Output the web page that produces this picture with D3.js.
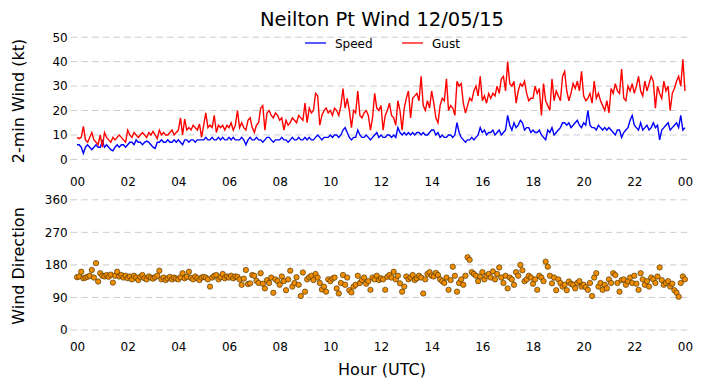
<!DOCTYPE html>
<html>
<head>
<meta charset="utf-8">
<script src="https://cdn.jsdelivr.net/npm/d3@7"></script>
<style>
  body { margin: 0; background: #fff; }
  text { font-family: "DejaVu Sans", sans-serif; fill: #000; }
  .grid line { stroke: #cccccc; stroke-width: 1; stroke-dasharray: 6.5,4.2; }
</style>
</head>
<body>
<div id="chart"></div>
<script>
// 5-minute observations, 00:00 UTC 12/05/15 -> 00:00 UTC next day
var startTime = new Date(Date.UTC(2015, 11, 5, 0, 0));
var stepMinutes = 5;

var speed = [
  6,6,5,2.5,5,6,5,4,5,6,5,5,
  7.5,5,6,5,4,3.5,5,6,5,6,6,5,
  6,7,7,6,8,7,7,6,7,7.5,7,6,
  5,4.5,7,7,8,7,7,8,7,7,8,7,
  8,7,6,8,8,7,8,8,7,8,8,8,
  8,9,8,8,9,8,8,9,8,9,8,8,
  9,8,9,8,8,8,9,8,6,8,9,8,
  8,9,8,8,7,8,9,9,8,7,8,8,
  8,9,8,8,7,8,9,8,8,9,8,8,
  9,8,9,8,8,9,10,9,8,9,9,9,
  10,9,10,10,9,10,12,13,11,9,8,9,
  9,12,10,9,9,10,9,8,9,10,11,9,
  10,9,9,10,10,9,10,9,13,11,10,11,
  10,11,10,11,10,11,11,10,11,10,10,11,
  12,12,10,11,9,10,9,9,10,10,9,10,
  15,11,9,8,7,8,8,9,8,9,10,13,
  11,12,10,11,11,12,10,11,12,10,11,12,
  18,14,12,15,13,14,16,15,12,13,13,11,
  12,11,11,12,10,9,8,12,11,13,10,11,
  12,13,15,15,14,15,13,14,15,16,14,13,
  15,14,20,14,13,13,12,14,13,12,13,12,
  13,12,11,10,12,12,9,11,12,13,16,18,
  14,13,12,15,12,13,14,12,13,15,13,14,
  8,12,13,14,15,12,13,14,15,13,18,12,
  13
];

var gust = [
  9,8.5,9,13.5,8,7,9,11,8,7,6,10,
  5,11,9,8,7,9,8,9,10,9,8,7,
  12,10,9,11,10,9,10,11,10,9,11,10,
  11.5,10,8.5,12,10,11,10,10,11,12,10,11,
  12,17,10,16.5,12,13,12,14,13,12,14.5,9,
  14,19,13,14,13,18,11,14,13,14,12,14,
  13,15,12,14,20,13,15,13,12,16,17,13,
  11,14,15,21,22,12,19,20,18,17,19,18,
  16,17,12,16,14,15,17,16,15,18,17,16,
  23,15,21,19,20,27,26,14,18,20,21,19,
  20,18,21,20,18,22,29,21,25,20,13,20,
  19,28,18,17,19,20,18,12,17,27,21,20,
  22,12,18,20,23,18,17,14,24,20,12,21,
  25,28,17,25,26,27,24,34,22,20,24,21,
  28,23,17,15,22,25,24,33,20,22,21,18,
  32,30,31,23,19,22,25,24,28,30,26,34,
  24,26,23,27,25,27,26,30,27,33,34,28,
  40,31,30,32,23,28,31,30,32,27,24,25,
  25,30,27,29,18,31,24,22,20,33,24,28,
  26,24,34,36,28,24,27,31,29,32,28,36,
  26,24,25,27,23,32,25,27,24,22,20,24,
  19,29,27,31,28,27,37,25,24,30,28,31,
  27,30,34,28,26,32,28,31,34,32,21,30,
  27,25,32,28,30,20,27,29,32,34,30,41,
  28
];

var direction = [
  146,148,161,143,145,147,150,166,145,185,134,157,
  150,148,152,147,153,131,150,161,148,152,145,150,
  143,148,140,150,145,138,147,152,143,140,148,145,
  142,146,150,164,140,145,138,143,147,140,145,142,
  140,146,157,143,147,161,144,140,148,143,138,145,
  147,145,140,120,145,150,152,140,146,155,143,148,
  145,150,143,148,147,140,125,142,166,127,129,152,
  150,136,130,157,128,115,138,130,145,103,140,135,
  125,148,135,110,140,164,120,130,146,125,94,159,
  106,140,146,150,138,155,145,130,112,120,106,140,
  135,142,145,115,101,130,152,125,145,110,104,120,
  125,150,130,138,145,128,135,111,145,140,150,138,
  143,140,111,147,152,145,161,140,150,129,106,120,
  148,140,145,152,138,143,150,145,101,140,155,160,
  150,148,158,152,140,135,130,145,111,138,175,150,
  106,130,140,125,150,201,194,160,155,150,135,148,
  160,140,150,155,145,162,140,155,173,145,130,150,
  115,145,140,125,160,150,180,165,135,140,150,145,
  128,140,111,150,145,135,189,175,150,129,145,110,
  140,130,120,125,110,134,128,125,115,130,135,120,
  125,118,111,130,94,145,157,120,130,111,125,115,
  140,130,157,152,130,106,138,140,125,135,145,130,
  150,128,111,157,140,125,135,120,145,140,130,148,
  173,138,125,130,135,120,128,110,103,92,130,148,
  140
];

var speedTicks = [0, 10, 20, 30, 40, 50];
var dirTicks = [0, 90, 180, 270, 360];
var title = "Neilton Pt Wind 12/05/15";

var width = 702, height = 388;

var svg = d3.select("#chart").append("svg").attr("width", width).attr("height", height);

var times = speed.map(function(d, i) { return d3.utcMinute.offset(startTime, i * stepMinutes); });
var endTime = d3.utcDay.offset(startTime, 1);

var x = d3.scaleUtc()
    .domain([d3.utcMinute.offset(startTime, -15), d3.utcMinute.offset(endTime, 15)])
    .range([70.7, 691.3]);

var yTop = d3.scaleLinear().domain([0, 50]).range([159.4, 37.2]);
var yBot = d3.scaleLinear().domain([0, 360]).range([330, 199.8]);

function drawGrid(y, ticks) {
	svg.append("g").attr("class", "grid")
		.selectAll("line").data(ticks).enter().append("line")
			.attr("x1", x.range()[0]).attr("x2", x.range()[1])
			.attr("y1", function(d) { return y(d); })
			.attr("y2", function(d) { return y(d); });
}

function drawAxes(y, ticks, xAxisY) {
	var ya = svg.append("g")
		.attr("transform", "translate(" + x.range()[0] + ",0)")
		.call(d3.axisLeft(y).tickValues(ticks).tickSize(0).tickPadding(3));
	ya.select(".domain").remove();
	ya.selectAll("text").style("font-size", "12px").style("font-family", "DejaVu Sans");

	var xa = svg.append("g")
		.attr("transform", "translate(0," + xAxisY + ")")
		.call(d3.axisBottom(x)
			.tickValues(d3.utcHour.range(startTime, d3.utcMinute.offset(endTime, 1), 2))
			.tickFormat(d3.utcFormat("%H"))
			.tickSize(0).tickPadding(0));
	xa.select(".domain").remove();
	xa.selectAll("text").style("font-size", "12px").style("font-family", "DejaVu Sans");
}

drawGrid(yTop, speedTicks);
drawGrid(yBot, dirTicks);
drawAxes(yTop, speedTicks, 177.5);
drawAxes(yBot, dirTicks, 342);

// wind lines
var line = function(vals, y) {
	return d3.line()
		.x(function(d, i) { return x(times[i]); })
		.y(function(d) { return y(d); })(vals);
};

svg.append("path").attr("d", line(speed, yTop))
	.attr("fill", "none").attr("stroke", "#0000ff").attr("stroke-width", 1.4);
svg.append("path").attr("d", line(gust, yTop))
	.attr("fill", "none").attr("stroke", "#ff0000").attr("stroke-width", 1.4);

// direction scatter
svg.append("g").selectAll("circle")
	.data(direction).enter().append("circle")
		.attr("cx", function(d, i) { return x(times[i]); })
		.attr("cy", function(d) { return yBot(d); })
		.attr("r", 2.7)
		.attr("fill", "#f08c00")
		.attr("stroke", "#3a2a00")
		.attr("stroke-width", 0.6);

// legend
var legend = [{name: "Speed", color: "#0000ff", x: 305}, {name: "Gust", color: "#ff0000", x: 402}];
var lg = svg.append("g").selectAll("g").data(legend).enter().append("g");
lg.append("line")
	.attr("x1", function(d) { return d.x; }).attr("x2", function(d) { return d.x + 21; })
	.attr("y1", 43).attr("y2", 43)
	.attr("stroke", function(d) { return d.color; }).attr("stroke-width", 1.3);
lg.append("text")
	.attr("x", function(d) { return d.x + 30; }).attr("y", 47.5)
	.style("font-size", "12px")
	.text(function(d) { return d.name; });

// titles
svg.append("text").attr("x", 382).attr("y", 26).attr("text-anchor", "middle")
	.style("font-size", "19.5px").text(title);
svg.append("text").attr("transform", "translate(24,101) rotate(-90)").attr("text-anchor", "middle")
	.style("font-size", "16px").text("2-min Wind (kt)");
svg.append("text").attr("transform", "translate(24,266) rotate(-90)").attr("text-anchor", "middle")
	.style("font-size", "16px").text("Wind Direction");
svg.append("text").attr("x", 382).attr("y", 375).attr("text-anchor", "middle")
	.style("font-size", "16px").text("Hour (UTC)");
</script>
</body>
</html>
